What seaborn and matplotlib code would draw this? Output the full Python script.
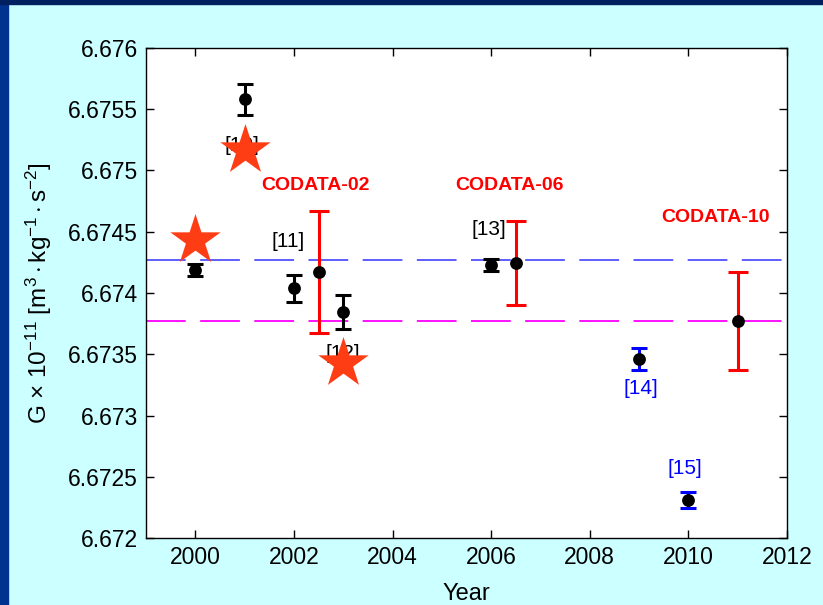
import numpy as np
import pandas as pd
import seaborn as sns
import matplotlib.pyplot as plt
from matplotlib.patches import Rectangle
from matplotlib.ticker import FixedLocator, FormatStrFormatter

## Data
years_black = [2000, 2001, 2002, 2003, 2006]
g_black = [6.67419, 6.67558, 6.67404, 6.673845, 6.67423]
err_black = [0.00005, 0.00013, 0.00011, 0.00014, 0.00005]

years_blue = [2009, 2010]
g_blue = [6.67346, 6.67231]
err_blue = [0.00009, 0.000065]

codata_years = [2002.5, 2006.5, 2011]
codata_g = [6.67417, 6.674245, 6.67377]
codata_err = [0.0005, 0.00034, 0.0004]
codata_names = ["CODATA-02", "CODATA-06", "CODATA-10"]

star_years = [2000, 2001, 2003]
star_g = [6.67443, 6.67517, 6.67343]

ref_labels = ["[10]", "[11]", "[12]", "[13]", "[14]", "[15]"]
ref_x = [2000.95, 2001.88, 2002.99, 2005.96, 2009.03, 2009.92]
ref_y = [6.6752, 6.67442, 6.67351, 6.67452, 6.67322, 6.67257]
ref_colors = ["black", "black", "black", "black", "blue", "blue"]

codata06_line = 6.67427
codata10_line = 6.67377

sns.set_style("ticks")
plt.rcParams["font.family"] = ["Liberation Sans", "DejaVu Sans"]
plt.rcParams["mathtext.fontset"] = "custom"
plt.rcParams["mathtext.rm"] = "Liberation Sans"
plt.rcParams["mathtext.it"] = "Liberation Sans"

bg = "#CCFFFF"
fig = plt.figure(figsize=(8.23, 6.05), dpi=100, facecolor=bg)
ax = fig.add_axes([0.1774, 0.1107, 0.7789, 0.81])
ax.set_facecolor("white")

# frame of the slide
fig.patches.append(Rectangle((0, 0), 8 / 823, 1, transform=fig.transFigure,
                             color="#00338f", zorder=0))
fig.patches.append(Rectangle((0, 1 - 4 / 605), 1, 4 / 605, transform=fig.transFigure,
                             color="#002060", zorder=0))

# reference lines
ax.axhline(codata06_line, color="#5050ff", lw=1.3, dashes=(22, 8), zorder=1)
ax.axhline(codata10_line, color="#ff00ff", lw=1.3, dashes=(22, 8), zorder=1)

# error bars
ax.errorbar(years_black, g_black, yerr=err_black, fmt="none", ecolor="black",
            elinewidth=2.2, capsize=6, capthick=2.2, zorder=2)
ax.errorbar(years_blue, g_blue, yerr=err_blue, fmt="none", ecolor="blue",
            elinewidth=2.2, capsize=6, capthick=2.2, zorder=2)
ax.errorbar(codata_years, codata_g, yerr=codata_err, fmt="none", ecolor="red",
            elinewidth=2.2, capsize=7, capthick=2.2, zorder=2)

pts = pd.DataFrame({
    "year": years_black + years_blue + codata_years,
    "G": g_black + g_blue + codata_g,
})
sns.scatterplot(data=pts, x="year", y="G", color="black", s=85,
                edgecolor="black", linewidth=0, ax=ax, zorder=3)

# reference labels (some hidden behind stars)
for lab, x, y, c in zip(ref_labels, ref_x, ref_y, ref_colors):
    ax.text(x, y, lab, color=c, fontsize=15, ha="center", va="center", zorder=3)

for name, x, y in zip(codata_names, [2002.44, 2006.38, 2010.55],
                      [6.67488, 6.67488, 6.67462]):
    ax.text(x, y, name, color="red", fontsize=14, fontweight="bold",
            ha="center", va="center", zorder=3)

stars = pd.DataFrame({"year": star_years, "G": star_g})
sns.scatterplot(data=stars, x="year", y="G", marker="*", s=1450,
                color="#ff3d14", edgecolor="#ff3d14", linewidth=0, ax=ax, zorder=4)

ax.set_xlim(1999, 2012)
ax.set_ylim(6.672, 6.676)
ax.xaxis.set_major_locator(FixedLocator(np.arange(2000, 2013, 2)))
ax.yaxis.set_major_locator(FixedLocator(np.arange(6.672, 6.67601, 0.0005)))
ax.yaxis.set_major_formatter(FormatStrFormatter("%g"))
ax.tick_params(direction="in", length=6, width=1, top=True, right=True,
               labelsize=16.5, pad=6, colors="black", labelcolor="black")
for s in ax.spines.values():
    s.set_color("black")
    s.set_linewidth(1)

ax.set_xlabel("Year", fontsize=17, labelpad=10, color="black")
ax.set_ylabel(r"G $\times$ 10$^{-11}$ [m$^{3}\cdot$kg$^{-1}\cdot$s$^{-2}$]",
              fontsize=17.5, labelpad=10, color="black")

fig.savefig("out.png", dpi=100, facecolor=bg)
